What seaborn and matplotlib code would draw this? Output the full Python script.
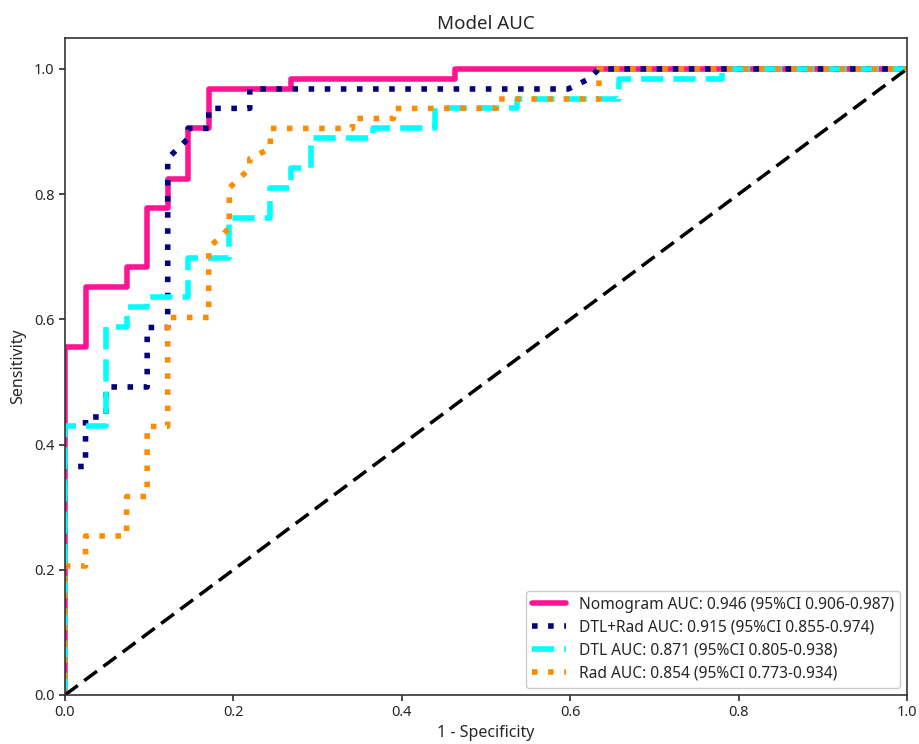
import matplotlib
matplotlib.use("Agg")
import matplotlib.pyplot as plt
import seaborn as sns
import pandas as pd

# ROC curve vertices (false positive rate, true positive rate) for each model
nomogram_fpr = [0, 0, 0.0244, 0.0244, 0.0732, 0.0732, 0.0976, 0.0976, 0.1220, 0.1220,
                0.1463, 0.1463, 0.1707, 0.1707, 0.2683, 0.2683, 0.4634, 0.4634, 1.0]
nomogram_tpr = [0, 0.556, 0.556, 0.651, 0.651, 0.683, 0.683, 0.778, 0.778, 0.825,
                0.825, 0.905, 0.905, 0.968, 0.968, 0.984, 0.984, 1.0, 1.0]

dtl_rad_fpr = [0, 0, 0.0244, 0.0244, 0.0488, 0.0488, 0.0976, 0.0976, 0.1220, 0.1220,
               0.1463, 0.1463, 0.1707, 0.1707, 0.2195, 0.2195, 0.5976, 0.6220, 0.6341, 1.0]
dtl_rad_tpr = [0, 0.365, 0.365, 0.444, 0.444, 0.492, 0.492, 0.587, 0.587, 0.857,
               0.889, 0.905, 0.905, 0.937, 0.937, 0.968, 0.968, 0.984, 1.0, 1.0]

dtl_fpr = [0, 0, 0.0488, 0.0488, 0.0732, 0.0732, 0.0976, 0.0976, 0.1463, 0.1463,
           0.1951, 0.1951, 0.2439, 0.2439, 0.2683, 0.2683, 0.2927, 0.2927, 0.3659, 0.3659,
           0.4390, 0.4390, 0.5366, 0.5366, 0.6585, 0.6585, 0.7805, 0.7805, 1.0]
dtl_tpr = [0, 0.429, 0.429, 0.587, 0.587, 0.619, 0.619, 0.635, 0.635, 0.698,
           0.698, 0.762, 0.762, 0.810, 0.810, 0.841, 0.841, 0.889, 0.889, 0.905,
           0.905, 0.937, 0.937, 0.952, 0.952, 0.984, 0.984, 1.0, 1.0]

rad_fpr = [0, 0, 0.0244, 0.0244, 0.0732, 0.0732, 0.0976, 0.0976, 0.1220, 0.1220,
           0.1707, 0.1707, 0.1951, 0.1951, 0.2195, 0.2195, 0.2439, 0.2439, 0.3415, 0.3415,
           0.3902, 0.3902, 0.5122, 0.5122, 0.6341, 0.6341, 1.0]
rad_tpr = [0, 0.206, 0.206, 0.254, 0.254, 0.317, 0.317, 0.429, 0.429, 0.603,
           0.603, 0.714, 0.746, 0.810, 0.841, 0.857, 0.873, 0.905, 0.905, 0.921,
           0.921, 0.937, 0.937, 0.952, 0.952, 1.0, 1.0]

labels = [
    "Nomogram AUC: 0.946 (95%CI 0.906-0.987)",
    "DTL+Rad AUC: 0.915 (95%CI 0.855-0.974)",
    "DTL AUC: 0.871 (95%CI 0.805-0.938)",
    "Rad AUC: 0.854 (95%CI 0.773-0.934)",
]
colors = ["#FF1493", "#000080", "#00FFFF", "#FF8C00"]
styles = ["-", (0, (1, 1.9)), (0, (4, 1.8)), (0, (1, 1.9))]

sns.set_theme(style="ticks")
plt.rcParams["font.family"] = ["Noto Sans", "DejaVu Sans"]
plt.rcParams["axes.edgecolor"] = "#333333"
plt.rcParams["axes.linewidth"] = 1.2

fig = plt.figure(figsize=(9.19, 7.44), dpi=100)
ax = fig.add_axes([0.0707, 0.0659, 0.9163, 0.8835])

curves = [(nomogram_fpr, nomogram_tpr), (dtl_rad_fpr, dtl_rad_tpr),
          (dtl_fpr, dtl_tpr), (rad_fpr, rad_tpr)]
for (fpr, tpr), lab, col, ls in zip(curves, labels, colors, styles):
    df = pd.DataFrame({"fpr": fpr, "tpr": tpr})
    sns.lineplot(data=df, x="fpr", y="tpr", sort=False, estimator=None,
                 color=col, linewidth=4, linestyle=ls, label=lab, ax=ax)

sns.lineplot(x=[0, 1], y=[0, 1], color="black", linewidth=2.5,
             linestyle=(0, (4.6, 2.3)), ax=ax, label="_chance")

handles = ax.get_lines()[:4]
ax.legend(handles=handles, labels=labels, loc="lower right", fontsize=11.2,
          handlelength=2.2, handletextpad=0.8, labelspacing=0.45,
          borderaxespad=0.45, frameon=True, framealpha=1, edgecolor="#cccccc")

ax.set_xlim(0, 1)
ax.set_ylim(0, 1.05)
ax.set_xticks([0, 0.2, 0.4, 0.6, 0.8, 1.0])
ax.set_yticks([0, 0.2, 0.4, 0.6, 0.8, 1.0])
ax.set_xticklabels(["0.0", "0.2", "0.4", "0.6", "0.8", "1.0"])
ax.set_yticklabels(["0.0", "0.2", "0.4", "0.6", "0.8", "1.0"])
ax.tick_params(labelsize=10.5, length=4, color="#333333")
ax.set_xlabel("1 - Specificity", fontsize=11.5, labelpad=3)
ax.set_ylabel("Sensitivity", fontsize=11.5, labelpad=6)
ax.set_title("Model AUC", fontsize=13.5, pad=6)

fig.savefig("out.png", dpi=100, facecolor="white")
